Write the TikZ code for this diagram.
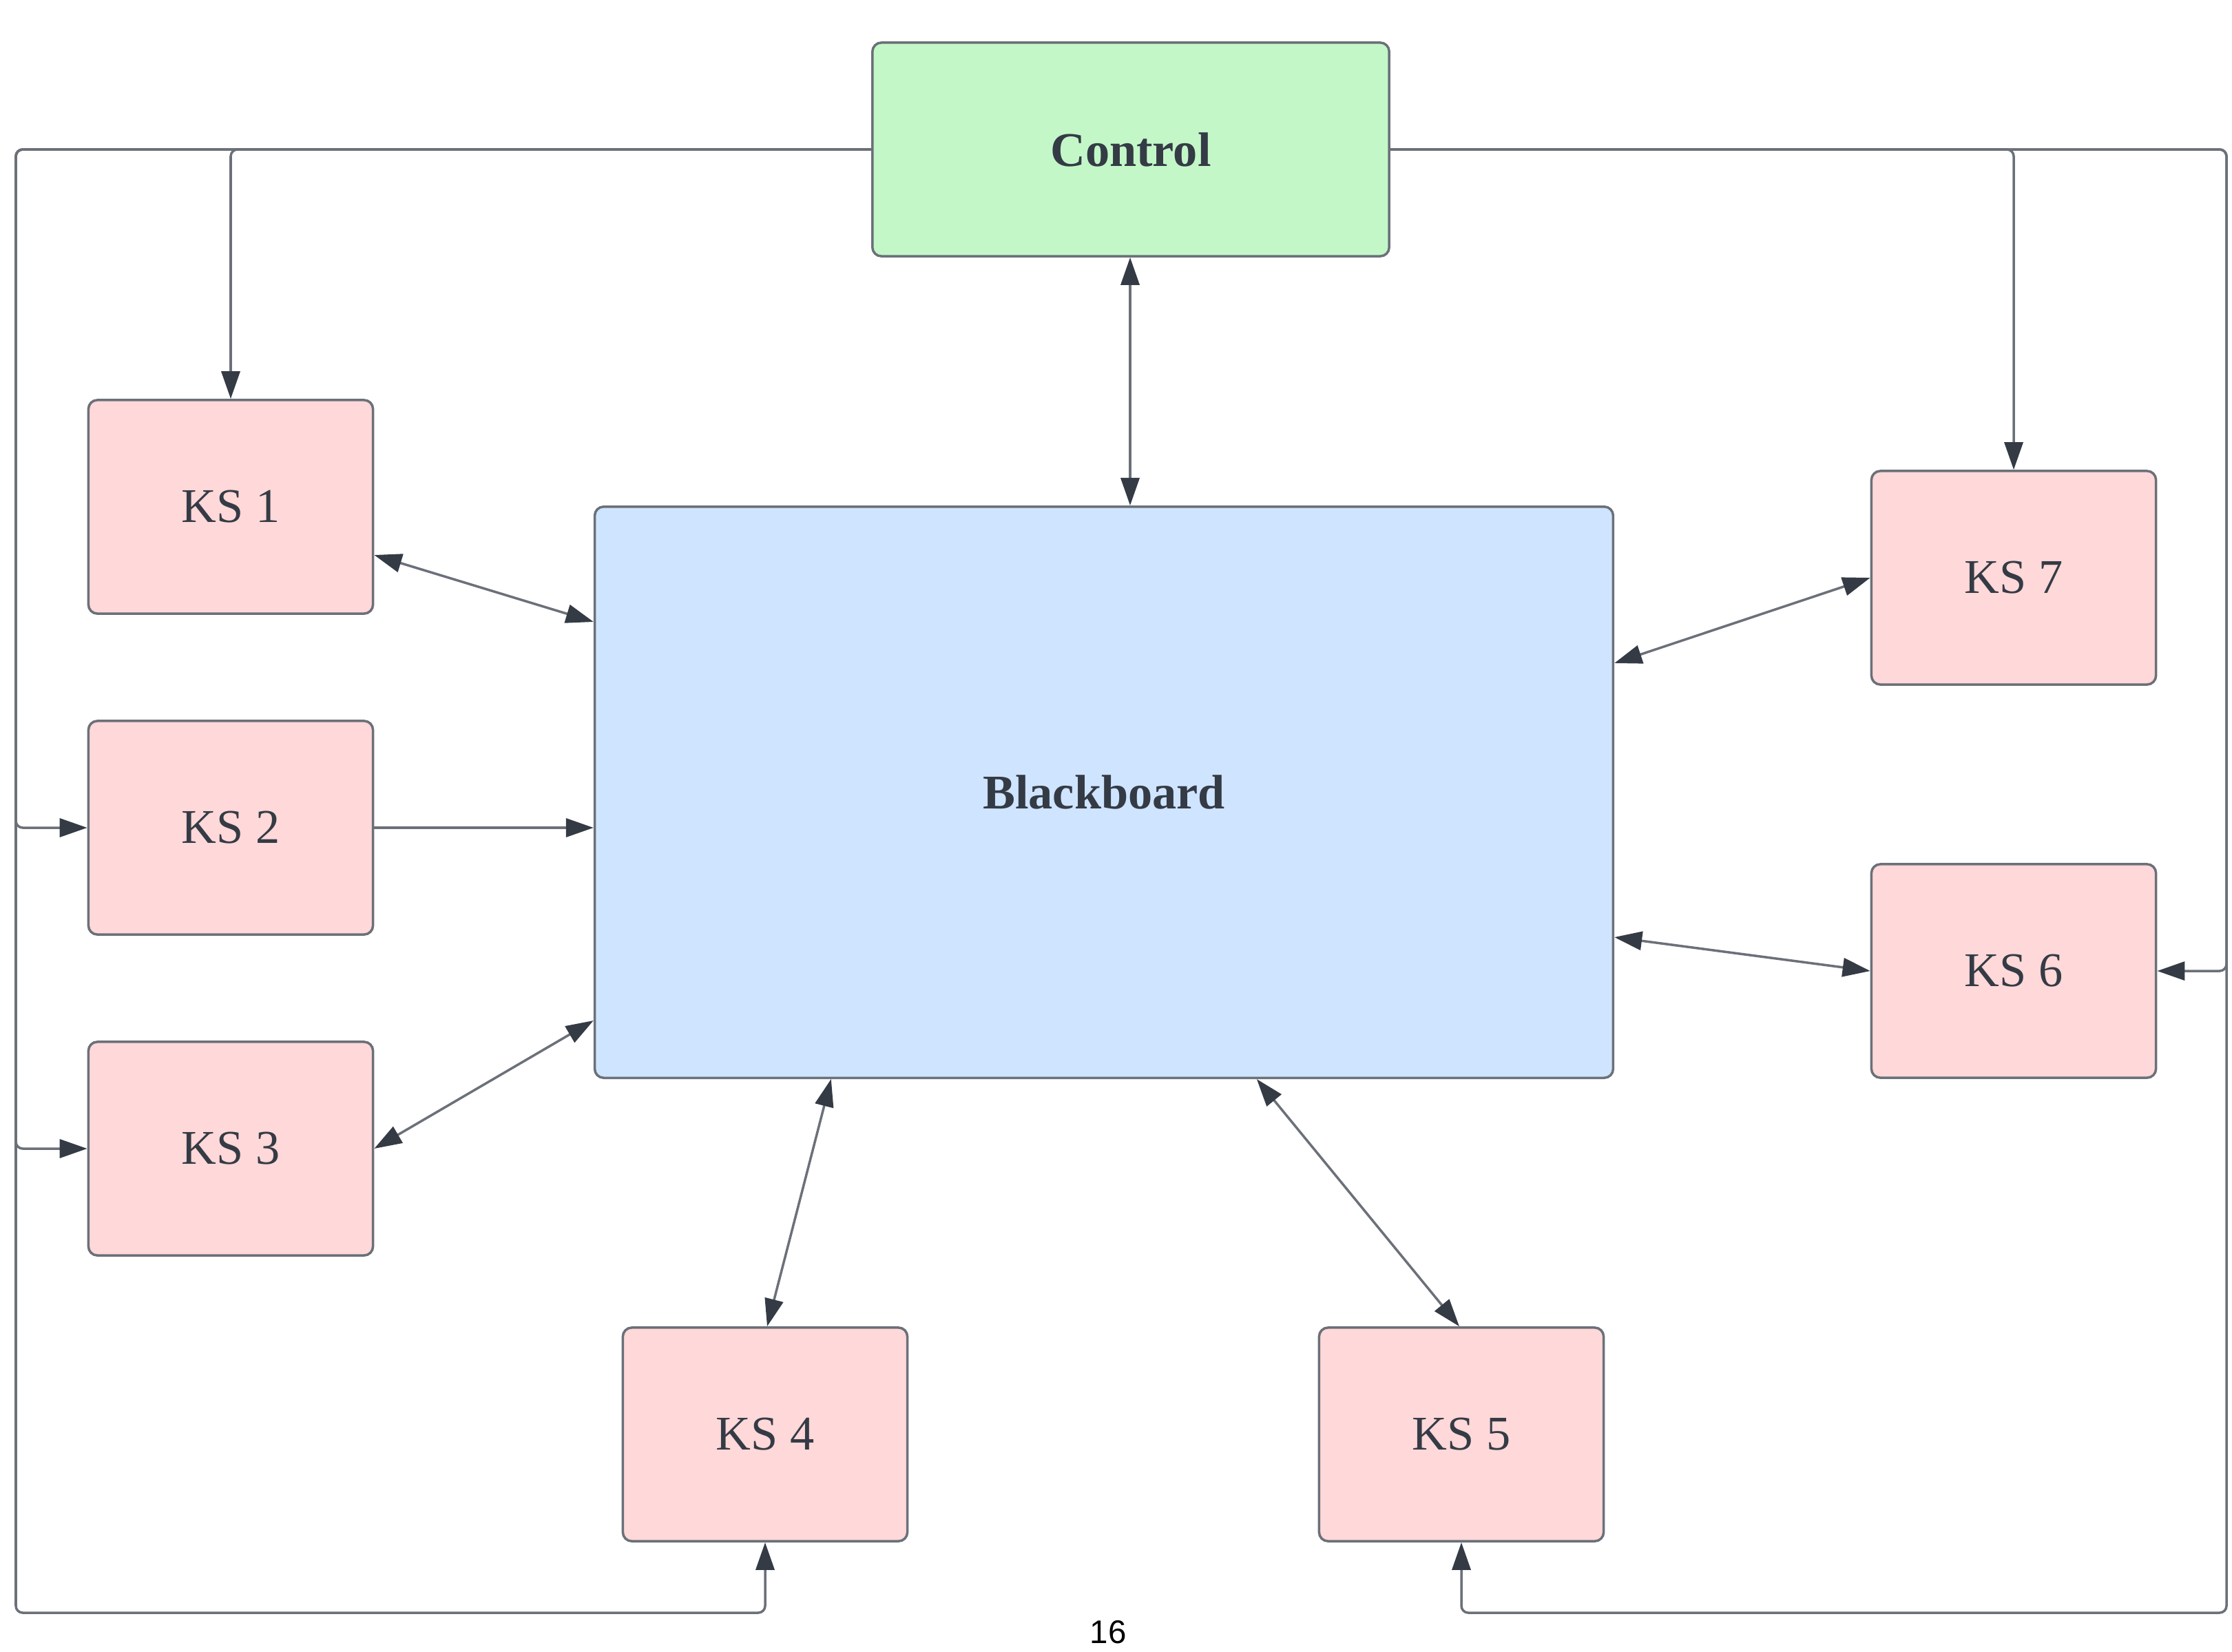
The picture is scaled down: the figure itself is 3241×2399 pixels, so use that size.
\documentclass[tikz,border=0pt]{standalone}
\usepackage{fontspec}
\setmainfont{Liberation Serif}
\newfontfamily\pagefont{Liberation Sans}
\usetikzlibrary{arrows.meta,calc}
\definecolor{linegray}{HTML}{6B7079}
\definecolor{tipdark}{HTML}{343B45}
\definecolor{txtdark}{HTML}{343B45}
\definecolor{ksfill}{HTML}{FFD8D9}
\definecolor{ctrlfill}{HTML}{C3F7C8}
\definecolor{bbfill}{HTML}{CFE4FF}
\begin{document}
\begin{tikzpicture}[x=0.01cm,y=-0.01cm,
  >={Triangle[length=4mm,width=2.7mm,color=tipdark,fill=tipdark]},
  box/.style={draw=linegray, line width=1pt, rounded corners=0.13cm,
    inner sep=0pt, text=txtdark, font=\fontsize{20}{24}\selectfont},
  ksbox/.style={box, fill=ksfill, minimum width=4.13cm, minimum height=3.1cm},
  link/.style={draw=linegray, line width=1pt, ->},
  bilink/.style={draw=linegray, line width=1pt, <->},
  loopline/.style={link, rounded corners=0.1cm}
]
\useasboundingbox (0,0) rectangle (3241,2399);

% boxes
\node[box, fill=ctrlfill, minimum width=7.5cm, minimum height=3.1cm,
  font=\fontsize{20}{24}\selectfont\bfseries] (ctrl) at (1642,217) {Control};
\node[box, fill=bbfill, minimum width=14.78cm, minimum height=8.29cm,
  font=\fontsize{20}{24}\selectfont\bfseries] (bb) at (1603,1150.5) {Blackboard};
\node[ksbox] (ks1) at (335,736) {KS 1};
\node[ksbox] (ks2) at (335,1202) {KS 2};
\node[ksbox] (ks3) at (335,1668) {KS 3};
\node[ksbox] (ks4) at (1111,2083) {KS 4};
\node[ksbox] (ks5) at (2122,2083) {KS 5};
\node[ksbox] (ks6) at (2924,1410) {KS 6};
\node[ksbox] (ks7) at (2924,839) {KS 7};

% page number
\node[font=\pagefont\fontsize{13.5}{16}\selectfont] (pg) at (1609,2370) {16};

% outer control loops
\coordinate (lcol) at (23,2342);
\coordinate (rcol) at (3233,2342);

\draw[loopline] (ctrl.west) -| (lcol) -| (ks4.south);
\draw[loopline] (ctrl.west) -| (ks1.north);
\draw[loopline] (ctrl.west) -| (lcol |- ks2.west) -- (ks2.west);
\draw[loopline] (ctrl.west) -| (lcol |- ks3.west) -- (ks3.west);

\draw[loopline] (ctrl.east) -| (rcol) -| (ks5.south);
\draw[loopline] (ctrl.east) -| (ks7.north);
\draw[loopline] (ctrl.east) -| (rcol |- ks6.east) -- (ks6.east);

% blackboard connections
\draw[bilink] (ctrl.south -| 1641,0) -- (bb.north -| 1641,0);
\draw[bilink] ($(ks1.east)+(0,70)$) -- ($(bb.north west)+(0,169)$);
\draw[link] (ks2.east) -- (ks2.east -| bb.west);
\draw[bilink] (ks3.east) -- ($(bb.north west)+(0,748)$);
\draw[bilink] ($(ks4.north)+(3,0)$) -- ($(bb.south west)+(345,0)$);
\draw[bilink] ($(ks5.north)+(-3,0)$) -- ($(bb.south west)+(963,0)$);
\draw[bilink] (ks6.west) -- ($(bb.north east)+(0,627)$);
\draw[bilink] (ks7.west) -- ($(bb.north east)+(0,229)$);
\end{tikzpicture}
\end{document}
